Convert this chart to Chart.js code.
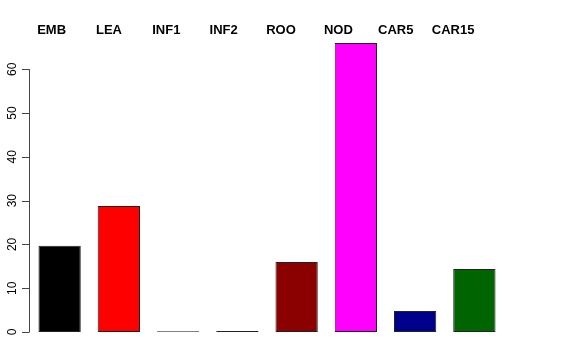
<!DOCTYPE html>
<html>
<head>
<meta charset="utf-8">
<script src="https://cdn.jsdelivr.net/npm/chart.js@4.4.0/dist/chart.umd.min.js"></script>
<style>
  html, body { margin: 0; padding: 0; background: #fff; }
  #wrap { width: 576px; height: 360px; }
</style>
</head>
<body>
<div id="wrap"><canvas id="bars" width="576" height="360"></canvas></div>
<script>
// tissue categories and values
const tissues = ["EMB", "LEA", "INF1", "INF2", "ROO", "NOD", "CAR5", "CAR15"];
const values = [19.7, 28.8, 0.15, 0.25, 16.0, 66.0, 4.8, 14.4];
const barColors = ["#000000", "#ff0000", "#4b5e3c", "#483d8b", "#8b0000", "#ff00ff", "#00008b", "#006400"];
const yTicks = [0, 10, 20, 30, 40, 50, 60];

// draws R style left axis (line only 0..60) and the bold labels on top
const rAxis = {
  id: "rAxis",
  afterDraw(chart) {
    const ctx = chart.ctx;
    const y = chart.scales.y;
    const x = chart.scales.x;
    const axisX = chart.chartArea.left - 1;
    ctx.save();
    ctx.strokeStyle = "#444";
    ctx.lineWidth = 1;
    ctx.beginPath();
    ctx.moveTo(axisX + 0.5, y.getPixelForValue(yTicks[0]));
    ctx.lineTo(axisX + 0.5, y.getPixelForValue(yTicks[yTicks.length - 1]));
    for (const t of yTicks) {
      const py = Math.round(y.getPixelForValue(t)) + 0.5;
      ctx.moveTo(axisX + 0.5, py);
      ctx.lineTo(axisX - 7, py);
    }
    ctx.stroke();

    ctx.fillStyle = "#000";
    ctx.font = "12px 'Liberation Sans', Arial, sans-serif";
    ctx.textAlign = "center";
    ctx.textBaseline = "middle";
    for (const t of yTicks) {
      ctx.save();
      ctx.translate(axisX - 16, y.getPixelForValue(t));
      ctx.rotate(-Math.PI / 2);
      ctx.fillText(String(t), 0, 0);
      ctx.restore();
    }

    // labels along the top, spaced a bit tighter than the bars
    const step = x.getPixelForValue(1) - x.getPixelForValue(0);
    const x0 = x.getPixelForValue(0) - 0.135 * step;
    ctx.font = "bold 13px 'Liberation Sans', Arial, sans-serif";
    tissues.forEach((name, i) => {
      ctx.fillText(name, x0 + i * 0.968 * step, 30);
    });
    ctx.restore();
  },
};

const canvas = document.querySelector("#bars");
new Chart(canvas, {
  type: "bar",
  data: {
    labels: tissues,
    datasets: [
      {
        data: values,
        backgroundColor: barColors,
        borderColor: "#222",
        borderWidth: 1,
        borderSkipped: false,
        categoryPercentage: 1,
        barPercentage: 0.714,
      },
    ],
  },
  options: {
    responsive: false,
    animation: false,
    devicePixelRatio: 1,
    layout: {
      padding: { left: 30, right: 72, top: 43, bottom: 28 },
    },
    scales: {
      x: { display: false },
      y: { display: false, min: 0, max: 66 },
    },
    plugins: {
      legend: { display: false },
      tooltip: { enabled: false },
    },
  },
  plugins: [rAxis],
});
</script>
</body>
</html>
